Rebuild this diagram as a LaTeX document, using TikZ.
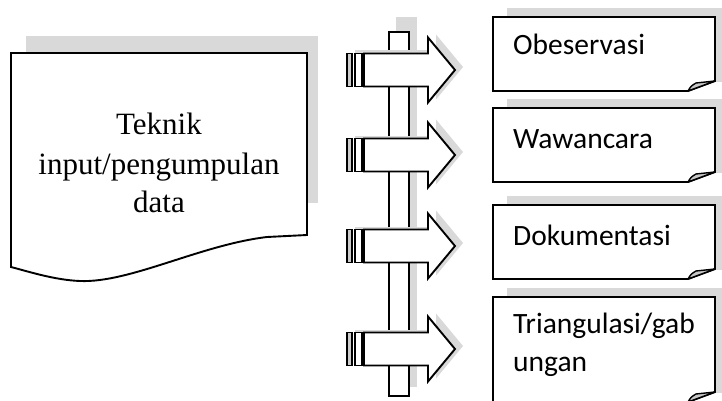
\documentclass[tikz,border=0pt]{standalone}
\usepackage{fontspec}
\setmainfont{Liberation Serif}
\newfontfamily\boxfont{Carlito}
\tikzset{
  shade/.style={fill=black!15, draw=none},
  outline/.style={draw=black, line width=1.9pt, fill=white, line join=miter},
  docfont/.style={font=\fontsize{31}{37}\selectfont, inner sep=0pt},
  lblfont/.style={font=\boxfont\fontsize{29.5}{36}\selectfont, inner sep=0pt},
  flap/.style={draw=black, line width=1.4pt, fill=black!22, line join=round}
}
\begin{document}
\begin{tikzpicture}[x=1pt,y=-1pt]
\useasboundingbox (0,0) rectangle (722,401);
\clip (0,0) rectangle (722,401);
% document shape
\fill[shade] (26,36) rectangle (318,203);
\draw[outline] (11,53) -- (307,53) -- (307,235) -- (267,237)
  .. controls (200,245) and (130,283) .. (80,281)
  .. controls (55,280) and (30,272) .. (11,267) -- cycle;
\node[docfont, anchor=base] (t1) at (159,135) {Teknik};
\node[docfont, anchor=base] (t2) at (159,174) {input/pengumpulan};
\node[docfont, anchor=base] (t3) at (159,212) {data};
% vertical bar
\fill[shade] (396,17) rectangle (417,387);
\draw[outline] (389,32) rectangle (409,396);
\coordinate (bar) at (399,214);
% arrows
\foreach \c/\n in {70/a1,155/a2,246/a3,349/a4}{
  \begin{scope}[shift={(8,-3)}]
    \fill[shade] (347,\c-16.5) rectangle (428,\c+16.5);
    \fill[shade] (428,\c-32.5) -- (455,\c) -- (428,\c+32.5) -- cycle;
  \end{scope}
  \draw[outline, fill=black!20] (347,\c-16.5) rectangle (352,\c+16.5);
  \draw[outline] (355,\c-16.5) rectangle (362,\c+16.5);
  \draw[outline] (364,\c-16.5) -- (428,\c-16.5) -- (428,\c-32.5) -- (455,\c)
     -- (428,\c+32.5) -- (428,\c+16.5) -- (364,\c+16.5) -- cycle;
  \coordinate (\n) at (455,\c);
}
% boxes
\foreach \t/\b in {17/91,108/182,205/279,297/402}{
  \fill[shade] (507,\t-9) rectangle (730,\b-9);
  \draw[outline] (493,\t) -- (715,\t) -- (715,\b-10) -- (688,\b) -- (493,\b) -- cycle;
  \draw[flap] (688,\b) .. controls (691,\b-5) .. (696,\b-8) -- (715,\b-10) -- cycle;
}
\node[lblfont, anchor=base west] (b1) at (513,55) {Obeservasi};
\node[lblfont, anchor=base west] (b2) at (513,148) {Wawancara};
\node[lblfont, anchor=base west] (b3) at (513,245) {Dokumentasi};
\node[lblfont, anchor=base west] (b4) at (513,333) {Triangulasi/gab};
\node[lblfont, anchor=base west] (b4b) at (513,371) {ungan};
\end{tikzpicture}
\end{document}
